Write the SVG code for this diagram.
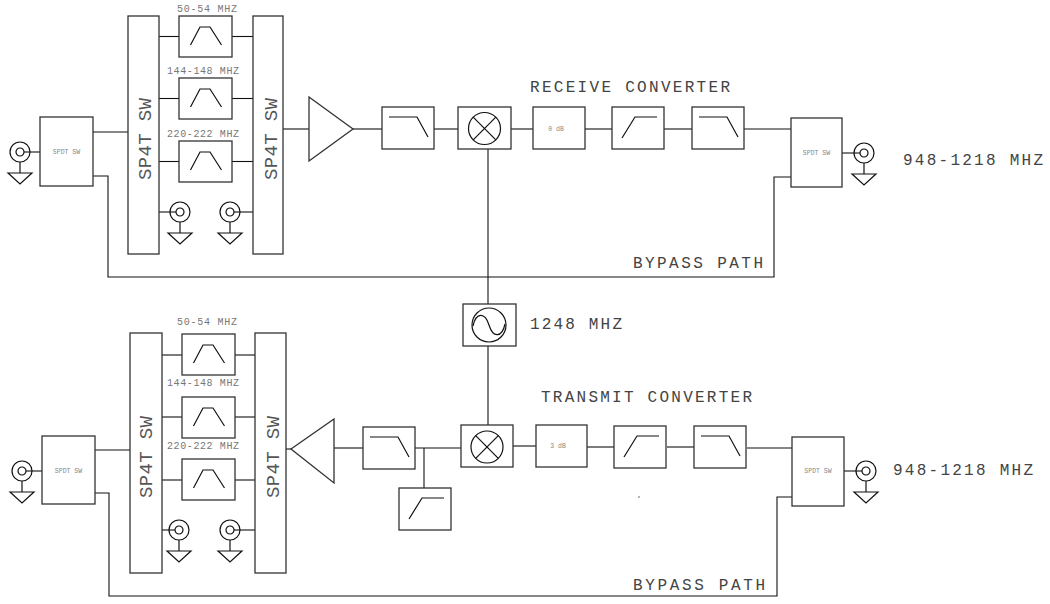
<svg xmlns="http://www.w3.org/2000/svg" xmlns:xlink="http://www.w3.org/1999/xlink" width="1050" height="604" viewBox="0 0 1050 604">
<style>
.bx{fill:#fff;stroke:#333;stroke-width:1.3}
.ln{fill:none;stroke:#111;stroke-width:1.1}
.sym{fill:none;stroke:#111;stroke-width:1.2}
.big{font-family:"Liberation Mono","DejaVu Sans Mono",monospace;font-size:16px;fill:#444}
.sm{font-family:"Liberation Mono","DejaVu Sans Mono",monospace;font-size:10px;fill:#777}
.tiny{font-family:"Liberation Mono","DejaVu Sans Mono",monospace;font-size:6.5px;fill:#888}
.sw{font-family:"Liberation Mono","DejaVu Sans Mono",monospace;font-size:19px;fill:#555}
</style>
<defs>
<g id="bpf"><rect class="bx" x="0" y="0" width="53" height="41"/><polyline class="sym" points="11.5,29 21,11 31,11 42.5,29"/></g>
<g id="lpf"><rect class="bx" x="0" y="0" width="52" height="42"/><polyline class="sym" points="7,10 35,10 46,30"/></g>
<g id="hpf"><rect class="bx" x="0" y="0" width="52" height="42"/><polyline class="sym" points="10,31 23,10 45,10"/></g>
<g id="coax"><circle class="sym" cx="0" cy="0" r="10"/><circle class="sym" cx="0" cy="0" r="4"/><line class="sym" x1="0" y1="10" x2="0" y2="21"/><polygon class="sym" points="-12,21 12,21 0,32"/></g>
<g id="mix"><circle class="sym" cx="0" cy="0" r="16"/><line class="sym" x1="-11.3" y1="-11.3" x2="11.3" y2="11.3"/><line class="sym" x1="-11.3" y1="11.3" x2="11.3" y2="-11.3"/></g>
</defs>

<g id="connectors">
<line class="ln" x1="24" y1="152" x2="40" y2="152"/>
<line class="ln" x1="93" y1="132" x2="128" y2="132"/>
<polyline class="ln" points="93,176 108,176 108,277 774,277 774,177 791,177"/>
<line class="ln" x1="159" y1="36.5" x2="179" y2="36.5"/>
<line class="ln" x1="232" y1="36.5" x2="253" y2="36.5"/>
<line class="ln" x1="159" y1="98.5" x2="179" y2="98.5"/>
<line class="ln" x1="232" y1="98.5" x2="253" y2="98.5"/>
<line class="ln" x1="159" y1="161.5" x2="179" y2="161.5"/>
<line class="ln" x1="232" y1="161.5" x2="253" y2="161.5"/>
<line class="ln" x1="159" y1="212" x2="176" y2="212"/>
<line class="ln" x1="234" y1="212" x2="253" y2="212"/>
<line class="ln" x1="283" y1="129" x2="309" y2="129"/>
<line class="ln" x1="353" y1="129" x2="382" y2="129"/>
<line class="ln" x1="434" y1="129" x2="458" y2="129"/>
<line class="ln" x1="511" y1="129" x2="533" y2="129"/>
<line class="ln" x1="585" y1="129" x2="612" y2="129"/>
<line class="ln" x1="664" y1="129" x2="692" y2="129"/>
<line class="ln" x1="744" y1="129" x2="791" y2="129"/>
<line class="ln" x1="842" y1="153" x2="860" y2="153"/>
<line class="ln" x1="488" y1="149" x2="488" y2="304"/>
<line class="ln" x1="488" y1="346" x2="488" y2="425"/>
<line class="ln" x1="26" y1="471" x2="42" y2="471"/>
<line class="ln" x1="95" y1="450" x2="130" y2="450"/>
<polyline class="ln" points="95,493 109,493 109,596 777,596 777,497 792,497"/>
<line class="ln" x1="162" y1="355" x2="182" y2="355"/>
<line class="ln" x1="233" y1="355" x2="255" y2="355"/>
<line class="ln" x1="162" y1="417" x2="182" y2="417"/>
<line class="ln" x1="233" y1="417" x2="255" y2="417"/>
<line class="ln" x1="162" y1="480" x2="182" y2="480"/>
<line class="ln" x1="233" y1="480" x2="255" y2="480"/>
<line class="ln" x1="162" y1="530" x2="175" y2="530"/>
<line class="ln" x1="234" y1="530" x2="255" y2="530"/>
<line class="ln" x1="286" y1="449" x2="291" y2="449"/>
<line class="ln" x1="334" y1="448" x2="363" y2="448"/>
<line class="ln" x1="415" y1="448" x2="461" y2="448"/>
<line class="ln" x1="424" y1="448" x2="424" y2="488"/>
<line class="ln" x1="513" y1="446" x2="536" y2="446"/>
<line class="ln" x1="587" y1="447" x2="614" y2="447"/>
<line class="ln" x1="667" y1="447" x2="694" y2="447"/>
<line class="ln" x1="747" y1="448" x2="792" y2="448"/>
<line class="ln" x1="844" y1="471" x2="862" y2="471"/>
</g>

<g id="rx-in-coax"><use xlink:href="#coax" x="20" y="152"/></g>
<g id="rx-spdt-l"><rect class="bx" x="40" y="117" width="53" height="69"/><text class="tiny" x="66.5" y="154" text-anchor="middle">SPDT SW</text></g>
<g id="rx-sp4t-l"><rect class="bx" x="128" y="16" width="31" height="238"/><text class="sw" transform="translate(151,139) rotate(-90)" text-anchor="middle" textLength="82" lengthAdjust="spacing">SP4T SW</text></g>
<g id="rx-sp4t-r"><rect class="bx" x="253" y="16" width="30" height="238"/><text class="sw" transform="translate(277,139) rotate(-90)" text-anchor="middle" textLength="82" lengthAdjust="spacing">SP4T SW</text></g>
<g id="rx-bpf1"><use xlink:href="#bpf" x="179" y="16"/><text class="sm" x="207" y="12" text-anchor="middle" textLength="60" lengthAdjust="spacing">50-54 MHZ</text></g>
<g id="rx-bpf2"><use xlink:href="#bpf" x="179" y="78"/><text class="sm" x="203" y="74" text-anchor="middle" textLength="72" lengthAdjust="spacing">144-148 MHZ</text></g>
<g id="rx-bpf3"><use xlink:href="#bpf" x="179" y="141"/><text class="sm" x="203" y="137" text-anchor="middle" textLength="72" lengthAdjust="spacing">220-222 MHZ</text></g>
<g id="rx-term1"><use xlink:href="#coax" x="180" y="212"/></g>
<g id="rx-term2"><use xlink:href="#coax" x="230" y="212"/></g>
<g id="rx-amp"><polygon class="bx" points="309,97 353,129 309,161"/></g>
<g id="rx-lpf1"><use xlink:href="#lpf" x="382" y="107"/></g>
<g id="rx-mixer"><rect class="bx" x="458" y="107" width="53" height="42"/><use xlink:href="#mix" x="484.5" y="128.5"/></g>
<g id="rx-att"><rect class="bx" x="533" y="107" width="52" height="42"/><text class="tiny" x="556" y="131" text-anchor="middle">0 dB</text></g>
<g id="rx-hpf"><use xlink:href="#hpf" x="612" y="107"/></g>
<g id="rx-lpf2"><use xlink:href="#lpf" x="692" y="107"/></g>
<g id="rx-spdt-r"><rect class="bx" x="791" y="118" width="51" height="69"/><text class="tiny" x="816.5" y="155" text-anchor="middle">SPDT SW</text></g>
<g id="rx-out-coax"><use xlink:href="#coax" x="864" y="153"/></g>

<g id="lo"><rect class="bx" x="463" y="304" width="53" height="42"/><circle class="sym" cx="489" cy="325" r="17"/><path class="sym" d="M473,326 C476,312 485,312 489,325 C493,338 502,338 505,324"/></g>

<g id="tx-in-coax"><use xlink:href="#coax" x="22" y="471"/></g>
<g id="tx-spdt-l"><rect class="bx" x="42" y="436" width="53" height="68"/><text class="tiny" x="68.5" y="473" text-anchor="middle">SPDT SW</text></g>
<g id="tx-sp4t-l"><rect class="bx" x="130" y="333" width="32" height="240"/><text class="sw" transform="translate(152,457) rotate(-90)" text-anchor="middle" textLength="82" lengthAdjust="spacing">SP4T SW</text></g>
<g id="tx-sp4t-r"><rect class="bx" x="255" y="333" width="31" height="240"/><text class="sw" transform="translate(279,457) rotate(-90)" text-anchor="middle" textLength="82" lengthAdjust="spacing">SP4T SW</text></g>
<g id="tx-bpf1"><use xlink:href="#bpf" x="182" y="334"/><text class="sm" x="207" y="325" text-anchor="middle" textLength="60" lengthAdjust="spacing">50-54 MHZ</text></g>
<g id="tx-bpf2"><use xlink:href="#bpf" x="182" y="397"/><text class="sm" x="203" y="386" text-anchor="middle" textLength="72" lengthAdjust="spacing">144-148 MHZ</text></g>
<g id="tx-bpf3"><use xlink:href="#bpf" x="182" y="459"/><text class="sm" x="203" y="449" text-anchor="middle" textLength="72" lengthAdjust="spacing">220-222 MHZ</text></g>
<g id="tx-term1"><use xlink:href="#coax" x="179" y="530"/></g>
<g id="tx-term2"><use xlink:href="#coax" x="230" y="530"/></g>
<g id="tx-amp"><polygon class="bx" points="291,449 334,419 334,483"/></g>
<g id="tx-lpf1"><use xlink:href="#lpf" x="363" y="427"/></g>
<g id="tx-hpf1"><use xlink:href="#hpf" x="399" y="488"/></g>
<g id="tx-mixer"><rect class="bx" x="461" y="425" width="52" height="42"/><use xlink:href="#mix" x="487" y="447"/></g>
<g id="tx-att"><rect class="bx" x="536" y="425" width="51" height="42"/><text class="tiny" x="558" y="448" text-anchor="middle">3 dB</text></g>
<g id="tx-hpf2"><use xlink:href="#hpf" x="614" y="426"/></g>
<g id="tx-lpf2"><use xlink:href="#lpf" x="694" y="426"/></g>
<g id="tx-spdt-r"><rect class="bx" x="792" y="437" width="52" height="69"/><text class="tiny" x="818" y="473" text-anchor="middle">SPDT SW</text></g>
<g id="tx-out-coax"><use xlink:href="#coax" x="866" y="471"/></g>

<g id="labels">
<text class="big" x="530" y="92" textLength="200" lengthAdjust="spacing">RECEIVE CONVERTER</text>
<text class="big" x="903" y="165" textLength="140" lengthAdjust="spacing">948-1218 MHZ</text>
<text class="big" x="633" y="268" textLength="130" lengthAdjust="spacing">BYPASS PATH</text>
<text class="big" x="530" y="329" textLength="92" lengthAdjust="spacing">1248 MHZ</text>
<text class="big" x="541" y="402" textLength="211" lengthAdjust="spacing">TRANSMIT CONVERTER</text>
<text class="big" x="893" y="475" textLength="140" lengthAdjust="spacing">948-1218 MHZ</text>
<text class="big" x="633" y="590" textLength="132" lengthAdjust="spacing">BYPASS PATH</text>
<circle cx="639" cy="497" r="0.8" fill="#555"/>
</g>
</svg>
